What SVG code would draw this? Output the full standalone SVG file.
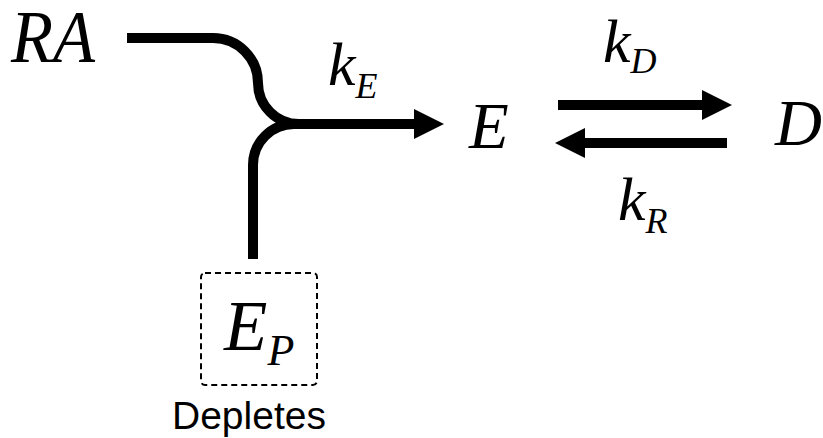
<svg xmlns="http://www.w3.org/2000/svg" width="823" height="438" viewBox="0 0 823 438">
<style>
.m{font-family:"Liberation Serif","DejaVu Serif",serif;font-style:italic;fill:#000}
.big{font-size:65px}
.k{font-size:62px}
.sub{font-size:36px}
.ln{fill:none;stroke:#000;stroke-width:10}
.lbl{font-family:"Liberation Sans",Arial,sans-serif;font-size:39px;fill:#000}
</style>
<defs>
<marker id="ah" markerUnits="userSpaceOnUse" markerWidth="30" markerHeight="30" refX="0" refY="15" orient="auto" viewBox="0 0 30 30">
<path d="M0,0 L30,15 L0,30 Z" fill="#000"/>
</marker>
</defs>
<g id="node-RA"><text class="m" font-size="74" x="11" y="62" textLength="84" lengthAdjust="spacingAndGlyphs">RA</text></g>
<g id="node-E"><text class="m big" x="469" y="148">E</text></g>
<g id="node-D"><text class="m big" x="775" y="145">D</text></g>
<g id="node-EP">
<rect x="201" y="273" width="116" height="112" rx="4" fill="none" stroke="#000" stroke-width="2" stroke-dasharray="6,4"/>
<text class="m" font-size="71" x="224" y="350">E<tspan font-size="44" dy="15">P</tspan></text>
<text class="lbl" x="172" y="429">Depletes</text>
</g>
<g id="connectors">
<path class="ln" d="M127,38 H213 A45,45 0 0 1 258,83 A41,41 0 0 0 299,124 H414" marker-end="url(#ah)"/>
<path class="ln" d="M253,259 V165 A41,41 0 0 1 294,124 H300"/>
<path class="ln" d="M558,105 H702" marker-end="url(#ah)"/>
<path class="ln" d="M727,143 H585" marker-end="url(#ah)"/>
</g>
<g id="labels">
<text class="m k" x="328" y="85">k<tspan class="sub" dy="13">E</tspan></text>
<text class="m k" x="603" y="62">k<tspan class="sub" dy="11">D</tspan></text>
<text class="m k" x="618" y="220">k<tspan class="sub" dy="13">R</tspan></text>
</g>
</svg>
